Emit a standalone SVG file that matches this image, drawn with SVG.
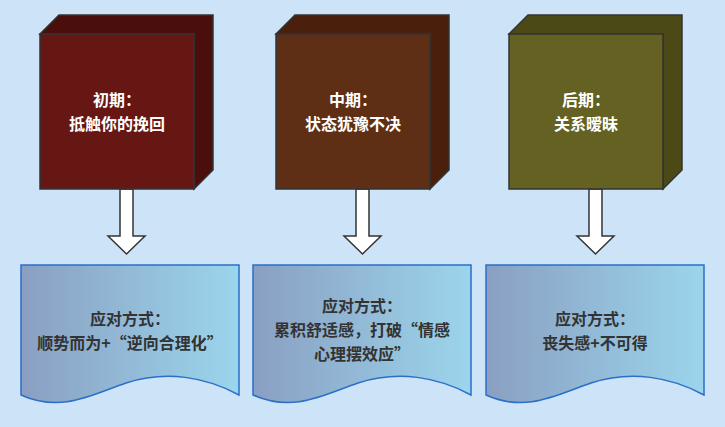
<svg xmlns="http://www.w3.org/2000/svg" width="725" height="427" viewBox="0 0 725 427">
<defs>
<linearGradient id="g" x1="0" x2="1" y1="0" y2="0"><stop offset="0" stop-color="#8a9fc2"/><stop offset="1" stop-color="#9bd5ec"/></linearGradient>
<style>
.e{stroke:#333;stroke-width:1.5}
.t{font-family:"Noto Sans CJK SC",sans-serif;font-size:16px;font-weight:bold;text-anchor:middle}
.w{fill:#fff}.d{fill:#333}
.doc{fill:url(#g);stroke:#2a6fc9;stroke-width:1.5}
.ar{fill:#fff;stroke:#333;stroke-width:1.5}
</style>
<g id="cube"><path class="e" d="M0,0 L19,-19 L173,-19 L173,136 L154,155 L154,0 Z"/></g>
<g id="doc"><path class="doc" d="M0,0 H218 V130 C185,112 145,105 105,118 C70,130 40,148 0,130 Z"/></g>
</defs>
<rect width="725" height="427" fill="#cde4f8"/>
<g id="connectors">
<path class="ar" d="M120,189 V236 H108 L126.5,254 L145,236 H133 V189 Z"/>
<path class="ar" d="M356,189 V236 H344 L362.5,254 L381,236 H369 V189 Z"/>
<path class="ar" d="M589,189 V236 H577 L595.5,254 L614,236 H602 V189 Z"/>
</g>
<g id="n1"><path class="e" fill="#4a0e0c" d="M40,34 L59,15 L213,15 L213,170 L194,189 L194,34 Z"/><rect class="e" x="40" y="34" width="154" height="155" fill="#661713"/>
<text class="t w" x="117" y="106">初期：</text><text class="t w" x="117" y="130">抵触你的挽回</text></g>
<g id="n2"><path class="e" fill="#4a200c" d="M276,34 L295,15 L449,15 L449,170 L430,189 L430,34 Z"/><rect class="e" x="276" y="34" width="154" height="155" fill="#5e2f15"/>
<text class="t w" x="353" y="106">中期：</text><text class="t w" x="353" y="130">状态犹豫不决</text></g>
<g id="n3"><path class="e" fill="#4b4916" d="M509,34 L528,15 L682,15 L682,170 L663,189 L663,34 Z"/><rect class="e" x="509" y="34" width="154" height="155" fill="#646122"/>
<text class="t w" x="586" y="106">后期：</text><text class="t w" x="586" y="130">关系暧昧</text></g>
<g id="d1"><use href="#doc" x="21" y="265"/><text class="t d" x="130" y="325">应对方式：</text><text class="t d" x="130" y="349">顺势而为+“逆向合理化”</text></g>
<g id="d2"><use href="#doc" x="253" y="265"/><text class="t d" x="362" y="312">应对方式：</text><text class="t d" x="362" y="336">累积舒适感，打破“情感</text><text class="t d" x="362" y="360">心理摆效应”</text></g>
<g id="d3"><use href="#doc" x="486" y="265"/><text class="t d" x="595" y="325">应对方式：</text><text class="t d" x="595" y="349">丧失感+不可得</text></g>
</svg>
